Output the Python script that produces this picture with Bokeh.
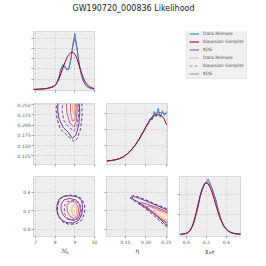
from bokeh.plotting import figure
from bokeh.layouts import row, column
from bokeh.models import (Range1d, FixedTicker, PrintfTickFormatter, CustomJSTickFormatter,
                          Legend, LegendItem)
from bokeh.core.properties import value
from bokeh.embed import file_html
from bokeh.resources import INLINE

TITLE = "GW190720_000836 Likelihood"
SERIES = ["Data Release", "Gaussian Sampler", "KDE"]
PARAM_LABELS = ["ℳ", "η", "χ"]
PARAM_SUBS = ["c", "", "eff"]

# ---- 1D marginals ----
MC_GRID = [6.9, 7.0, 7.1, 7.2, 7.3, 7.4, 7.5, 7.6, 7.7, 7.8, 7.9, 8.0, 8.1, 8.2, 8.3, 8.4,
           8.5, 8.6, 8.7, 8.8, 8.9, 9.0, 9.1, 9.2, 9.3, 9.4, 9.5, 9.6, 9.7, 9.8, 9.9, 10.0]
MC_DATA = [0, 0, 0.01, 0.01, 0.02, 0.03, 0.04, 0.05, 0.07, 0.09, 0.12, 0.18, 0.35, 0.62, 1.02, 1.22,
           1.12, 0.95, 0.98, 1.45, 2.2, 2.72, 2.1, 1.35, 0.85, 0.48, 0.28, 0.15, 0.09, 0.05, 0.03, 0.02]
MC_GAUSS = [0, 0.005, 0.01, 0.015, 0.02, 0.03, 0.04, 0.06, 0.08, 0.11, 0.15, 0.2, 0.33, 0.52, 0.8, 1.06,
            1.32, 1.54, 1.7, 1.79, 1.8, 1.72, 1.52, 1.22, 0.92, 0.63, 0.42, 0.27, 0.17, 0.11, 0.07, 0.05]
MC_KDE = [0, 0.005, 0.01, 0.012, 0.02, 0.03, 0.04, 0.05, 0.07, 0.09, 0.13, 0.2, 0.36, 0.62, 0.96, 1.15,
          1.08, 0.97, 1.05, 1.5, 2.12, 2.5, 2.05, 1.38, 0.86, 0.5, 0.3, 0.17, 0.1, 0.06, 0.035, 0.02]

ETA_GRID = [0.105, 0.110, 0.115, 0.120, 0.125, 0.130, 0.135, 0.140, 0.145, 0.150,
            0.155, 0.160, 0.165, 0.170, 0.175, 0.180, 0.185, 0.190, 0.195, 0.200,
            0.205, 0.210, 0.215, 0.220, 0.225, 0.230, 0.235, 0.240, 0.245, 0.250]
ETA_DATA = [0.0, 0.2, 0.3, 0.6, 0.7, 1.2, 1.4, 2.2, 2.5, 3.9, 4.4, 6.3, 7.0, 9.2, 10.2, 13.1, 14.0, 17.8,
            18.6, 22.5, 23.2, 27.0, 26.1, 31.5, 28.2, 33.5, 27.8, 32.0, 29.0, 31.2]
ETA_GAUSS = [0.1, 0.2, 0.35, 0.55, 0.8, 1.1, 1.5, 2.0, 2.7, 3.6, 4.7, 5.9, 7.3, 8.8, 10.6, 12.5, 14.6, 16.9,
             19.2, 21.6, 23.9, 25.9, 27.6, 28.7, 29.3, 29.4, 29.1, 28.4, 26.5, 23.0]
ETA_KDE = [0.05, 0.15, 0.3, 0.5, 0.75, 1.1, 1.5, 2.0, 2.7, 3.6, 4.6, 5.8, 7.2, 8.8, 10.6, 12.6, 14.7, 17.0,
           19.4, 21.8, 24.2, 26.3, 28.2, 29.6, 30.4, 30.8, 30.8, 30.6, 30.3, 30.0]

CHI_GRID = [-0.06, -0.04, -0.02, 0.0, 0.02, 0.04, 0.06, 0.08, 0.10, 0.12, 0.14, 0.16, 0.18, 0.20, 0.22, 0.24,
            0.26, 0.28, 0.30, 0.32, 0.34, 0.36, 0.38, 0.40, 0.42, 0.44, 0.46, 0.48, 0.50, 0.52, 0.54, 0.56]
CHI_DATA = [0.01, 0.03, 0.06, 0.1, 0.2, 0.4, 0.78, 1.3, 2.1, 2.85, 3.9, 4.4, 5.1, 5.25, 5.55, 5.05,
            4.6, 3.95, 3.35, 2.4, 1.75, 1.15, 0.78, 0.5, 0.34, 0.22, 0.14, 0.09, 0.06, 0.04, 0.03, 0.02]
CHI_GAUSS = [0.02, 0.04, 0.07, 0.12, 0.22, 0.45, 0.85, 1.45, 2.25, 3.1, 3.95, 4.6, 5.0, 5.15, 5.05, 4.7,
             4.15, 3.5, 2.8, 2.15, 1.6, 1.15, 0.8, 0.55, 0.37, 0.25, 0.17, 0.11, 0.08, 0.05, 0.04, 0.03]
CHI_KDE = [0.01, 0.03, 0.06, 0.11, 0.21, 0.42, 0.8, 1.35, 2.1, 2.95, 3.8, 4.5, 5.0, 5.25, 5.2, 4.95,
           4.5, 3.9, 3.2, 2.45, 1.78, 1.2, 0.8, 0.52, 0.34, 0.22, 0.14, 0.09, 0.06, 0.04, 0.03, 0.02]

# ---- 2D contours (Mc, eta) ----
MCETA_GAUSS_OUTER = [(8.07, 0.26), (8.05, 0.235), (8.1, 0.214), (8.27, 0.19), (8.61, 0.175), (8.95, 0.160),
                     (9.12, 0.167), (9.29, 0.19), (9.37, 0.222), (9.35, 0.26)]
MCETA_KDE_OUTER = [(8.15, 0.26), (8.13, 0.235), (8.2, 0.215), (8.4, 0.195), (8.65, 0.183), (8.88, 0.168),
                   (9.05, 0.175), (9.2, 0.2), (9.25, 0.23), (9.22, 0.26)]
MCETA_GAUSS_MID = [(8.4, 0.26), (8.35, 0.235), (8.45, 0.21), (8.7, 0.195), (8.95, 0.185), (9.12, 0.2),
                   (9.2, 0.23), (9.15, 0.26)]
MCETA_KDE_MID = [(8.55, 0.26), (8.6, 0.23), (8.75, 0.205), (8.95, 0.195), (9.08, 0.21), (9.12, 0.24), (9.1, 0.26)]
MCETA_KDE_INNER = [(8.78, 0.26), (8.78, 0.23), (8.88, 0.21), (9.0, 0.212), (9.05, 0.235), (9.03, 0.26)]
MCETA_KDE_CORE = [(8.88, 0.26), (8.9, 0.235), (8.97, 0.225), (9.0, 0.24), (8.98, 0.26)]

# ---- 2D contours (Mc, chi_eff) ----
MCCHI_GAUSS_OUTER = [(8.15, 0.28), (8.3, 0.34), (8.6, 0.37), (9.0, 0.37), (9.3, 0.34), (9.5, 0.27), (9.5, 0.18),
                     (9.35, 0.1), (9.05, 0.06), (8.7, 0.055), (8.4, 0.08), (8.2, 0.13), (8.1, 0.2), (8.15, 0.28)]
MCCHI_KDE_OUTER = [(8.1, 0.27), (8.2, 0.33), (8.45, 0.36), (8.8, 0.365), (9.15, 0.35), (9.35, 0.31), (9.4, 0.24),
                   (9.35, 0.16), (9.2, 0.1), (8.9, 0.07), (8.55, 0.075), (8.3, 0.11), (8.12, 0.17), (8.08, 0.22),
                   (8.1, 0.27)]
MCCHI_GAUSS_MID = [(8.45, 0.25), (8.6, 0.3), (8.9, 0.315), (9.2, 0.29), (9.35, 0.22), (9.3, 0.14), (9.05, 0.1),
                   (8.7, 0.11), (8.5, 0.16), (8.45, 0.25)]
MCCHI_KDE_MID = [(8.3, 0.27), (8.45, 0.32), (8.75, 0.335), (9.05, 0.32), (9.25, 0.27), (9.28, 0.2), (9.2, 0.13),
                 (8.95, 0.1), (8.65, 0.11), (8.42, 0.15), (8.3, 0.21), (8.3, 0.27)]
MCCHI_KDE_INNER = [(8.6, 0.26), (8.75, 0.3), (9.0, 0.3), (9.15, 0.26), (9.2, 0.2), (9.12, 0.14), (8.92, 0.12),
                   (8.72, 0.15), (8.62, 0.2), (8.6, 0.26)]
MCCHI_KDE_CORE = [(8.85, 0.24), (8.95, 0.27), (9.08, 0.25), (9.1, 0.2), (9.05, 0.16), (8.92, 0.15), (8.85, 0.19),
                  (8.85, 0.24)]

# ---- 2D contours (eta, chi_eff) ----
ETACHI_GAUSS_OUTER = [(0.262, 0.2), (0.24, 0.245), (0.22, 0.28), (0.2, 0.32), (0.183, 0.35), (0.17, 0.365),
                      (0.162, 0.36), (0.163, 0.335), (0.175, 0.3), (0.195, 0.24), (0.213, 0.175), (0.232, 0.1),
                      (0.245, 0.045), (0.262, 0.02)]
ETACHI_KDE_OUTER = [(0.262, 0.19), (0.245, 0.225), (0.225, 0.262), (0.205, 0.3), (0.185, 0.335), (0.172, 0.355),
                    (0.166, 0.35), (0.167, 0.33), (0.18, 0.3), (0.2, 0.245), (0.218, 0.18), (0.235, 0.11),
                    (0.247, 0.06), (0.262, 0.03)]
ETACHI_KDE_MID = [(0.262, 0.17), (0.245, 0.205), (0.225, 0.24), (0.205, 0.27), (0.19, 0.29), (0.182, 0.285),
                  (0.19, 0.26), (0.21, 0.2), (0.228, 0.14), (0.243, 0.09), (0.262, 0.05)]
ETACHI_KDE_INNER = [(0.262, 0.16), (0.245, 0.19), (0.225, 0.225), (0.208, 0.25), (0.2, 0.25), (0.208, 0.22),
                    (0.222, 0.17), (0.236, 0.12), (0.25, 0.08), (0.262, 0.06)]
ETACHI_KDE_CORE = [(0.262, 0.15), (0.245, 0.18), (0.228, 0.205), (0.218, 0.21), (0.222, 0.185), (0.233, 0.15),
                   (0.245, 0.11), (0.262, 0.08)]
ETACHI_KDE_PEAK = [(0.262, 0.14), (0.248, 0.165), (0.237, 0.18), (0.233, 0.17), (0.24, 0.145), (0.25, 0.12),
                   (0.262, 0.1)]

MC_TICKS = [7, 8, 9, 10]
ETA_TICKS_Y = [0.125, 0.150, 0.175, 0.200, 0.225, 0.250]
ETA_TICKS_X = [0.15, 0.20, 0.25]
CHI_TICKS = [0.0, 0.2, 0.4]
MC_DENS_TICKS = [0.5, 1.0, 1.5, 2.0, 2.5]
ETA_DENS_TICKS = [10, 20, 30]
CHI_DENS_TICKS = [2, 4]

# ---------------- styling / layout ----------------
FONT = "DejaVu Sans"
BG = "#eeeeee"
C_BLUE, C_RED, C_PURP = "#348ABD", "#A60628", "#7A68A6"
MC_R, ETA_R = (6.9, 10.0), (0.104, 0.2525)
CHI_RX, CHI_RY = (-0.068, 0.543), (-0.076, 0.573)

# (figure width, left border, right border) per column; (height, top, bottom) per row
COLW = [(100, 33, 6), (73, 6, 6), (85, 6, 18)]
ROWH = [(82, 17, 6), (74, 7, 6), (76, 6, 10)]

blank = CustomJSTickFormatter(code="return ''")


def panel(ci, ri, xr, yr, xt, yt, xfmt=None, yfmt=None):
    w, bl, br = COLW[ci]
    h, bt, bb = ROWH[ri]
    p = figure(width=w, height=h, x_range=Range1d(*xr), y_range=Range1d(*yr),
               output_backend="svg", toolbar_location=None, title=None,
               min_border_left=bl, min_border_right=br, min_border_top=bt, min_border_bottom=bb)
    p.background_fill_color = BG
    p.border_fill_color = "white"
    p.outline_line_color = "#d0d0d0"
    p.outline_line_width = 0.8
    p.grid.grid_line_color = "#b8b8b8"
    p.grid.grid_line_dash = "2 2"
    p.grid.grid_line_width = 0.5
    p.xaxis.ticker = FixedTicker(ticks=xt)
    p.yaxis.ticker = FixedTicker(ticks=yt)
    for ax, fmt in ((p.xaxis, xfmt), (p.yaxis, yfmt)):
        ax.axis_line_color = None
        ax.major_tick_line_color = "#666666"
        ax.major_tick_line_width = 0.6
        ax.major_tick_out = 2
        ax.major_tick_in = 0
        ax.minor_tick_line_color = None
        ax.major_label_standoff = 1
        ax.major_label_text_font = FONT
        ax.major_label_text_color = "#555555"
        if fmt is None:
            ax.formatter = blank
            ax.major_label_text_font_size = "1px"
        else:
            ax.formatter = fmt
            ax.major_label_text_font_size = "4.5px"
    return p


def dens(p, x, ys):
    for y, c in zip(ys, (C_BLUE, C_PURP, C_RED)):
        p.line(x, y, line_color=c, line_width=1.0)


def contour(p, pts, color, dash="solid", width=0.8):
    p.line([a for a, b in pts], [b for a, b in pts], line_color=color, line_dash=dash, line_width=width)


def bare(w, h, **borders):
    p = figure(width=w, height=h, x_range=Range1d(0, w), y_range=Range1d(0, h),
               output_backend="svg", toolbar_location=None, title=None,
               x_axis_location=None, y_axis_location=None, min_border=0, **borders)
    p.outline_line_color = None
    p.grid.visible = False
    p.background_fill_color = "white"
    p.border_fill_color = "white"
    return p


# Title strip (page x = data x)
head = bare(258, 14)
head.text(x=[133], y=[6.5], text=[TITLE], text_font=value(FONT), text_font_size="8px",
          text_color="#222222", text_align="center", text_baseline="middle")

# Row 1
f11 = panel(0, 0, MC_R, (-0.05, 2.82), MC_TICKS, MC_DENS_TICKS)
dens(f11, MC_GRID, (MC_DATA, MC_KDE, MC_GAUSS))

top = figure(width=158, height=82, x_range=Range1d(0, 1), y_range=Range1d(0, 1),
             output_backend="svg", toolbar_location=None, title=None,
             x_axis_location=None, y_axis_location=None, min_border_left=0, min_border_right=0,
             min_border_top=17, min_border_bottom=6)
top.outline_line_color = None
top.grid.visible = False
top.background_fill_color = "white"
hidden = ([-10, -9], [-10, -9])
rends = [
    top.line(*hidden, line_color=C_BLUE, line_width=1.1),
    top.line(*hidden, line_color=C_RED, line_width=1.1),
    top.line(*hidden, line_color=C_PURP, line_width=1.1),
    top.line(*hidden, line_color="#8c8c8c", line_width=0.9, line_dash="1 1"),
    top.line(*hidden, line_color="#8c8c8c", line_width=0.9, line_dash="3 2"),
    top.line(*hidden, line_color="#8c8c8c", line_width=0.9),
]
labels = SERIES + SERIES
leg = Legend(items=[LegendItem(label=l, renderers=[r]) for l, r in zip(labels, rends)],
             location=(86, 11), glyph_width=10, glyph_height=5, label_height=5, label_standoff=4,
             spacing=3, padding=2, margin=0, label_text_font=FONT, label_text_font_size="4.5px",
             label_text_color="#555555", background_fill_color="#f0f0f0", background_fill_alpha=1.0,
             border_line_color="#dddddd", border_line_width=0.6)
top.add_layout(leg)

# Row 2
f21 = panel(0, 1, MC_R, ETA_R, MC_TICKS, ETA_TICKS_Y, yfmt=PrintfTickFormatter(format="%.3f"))
contour(f21, MCETA_GAUSS_OUTER, "#3b0f70", "3 2")
contour(f21, MCETA_KDE_OUTER, "#51127c")
contour(f21, MCETA_GAUSS_MID, "#8c2981", "3 2")
contour(f21, MCETA_KDE_MID, "#b73779")
contour(f21, MCETA_KDE_INNER, "#de4968")
contour(f21, MCETA_KDE_CORE, "#fe9f6d")

f22 = panel(1, 1, ETA_R, (-2.2, 36.6), ETA_TICKS_X, ETA_DENS_TICKS)
dens(f22, ETA_GRID, (ETA_DATA, ETA_KDE, ETA_GAUSS))

# Row 3
f31 = panel(0, 2, MC_R, CHI_RY, MC_TICKS, CHI_TICKS,
            xfmt=PrintfTickFormatter(format="%d"), yfmt=PrintfTickFormatter(format="%.1f"))
contour(f31, MCCHI_GAUSS_OUTER, "#3b0f70", "3 2")
contour(f31, MCCHI_KDE_OUTER, "#51127c")
contour(f31, MCCHI_GAUSS_MID, "#8c2981", "3 2")
contour(f31, MCCHI_KDE_MID, "#721f81")
contour(f31, MCCHI_KDE_INNER, "#de4968")
contour(f31, MCCHI_KDE_CORE, "#fe9f6d")

f32 = panel(1, 2, ETA_R, CHI_RY, ETA_TICKS_X, CHI_TICKS, xfmt=PrintfTickFormatter(format="%.2f"))
contour(f32, ETACHI_GAUSS_OUTER, "#3b0f70", "3 2")
contour(f32, ETACHI_KDE_OUTER, "#51127c")
contour(f32, ETACHI_KDE_MID, "#8c2981")
contour(f32, ETACHI_KDE_INNER, "#de4968")
contour(f32, ETACHI_KDE_CORE, "#fe9f6d")
contour(f32, ETACHI_KDE_PEAK, "#fecf92")

f33 = panel(2, 2, CHI_RX, (-0.2, 5.8), CHI_TICKS, CHI_DENS_TICKS, xfmt=PrintfTickFormatter(format="%.1f"))
dens(f33, CHI_GRID, (CHI_DATA, CHI_KDE, CHI_GAUSS))

# axis-label strip below the bottom row (page x = data x, y counted from strip bottom)
strip = bare(258, 14)
strip.text(x=[60.5, 135, 204.5], y=[10, 10, 10], text=PARAM_LABELS, text_font=value(FONT),
           text_font_size="6px", text_color="#333333", text_align="left", text_baseline="middle")
strip.text(x=[66.3, 208.3], y=[8.3, 8.3], text=[PARAM_SUBS[0], PARAM_SUBS[2]], text_font=value(FONT),
           text_font_size="4.2px", text_color="#333333", text_align="left", text_baseline="middle")

layout = column(head, row(f11, top), row(f21, f22), row(f31, f32, f33), strip)
open("out.html", "w").write(file_html(layout, INLINE))
